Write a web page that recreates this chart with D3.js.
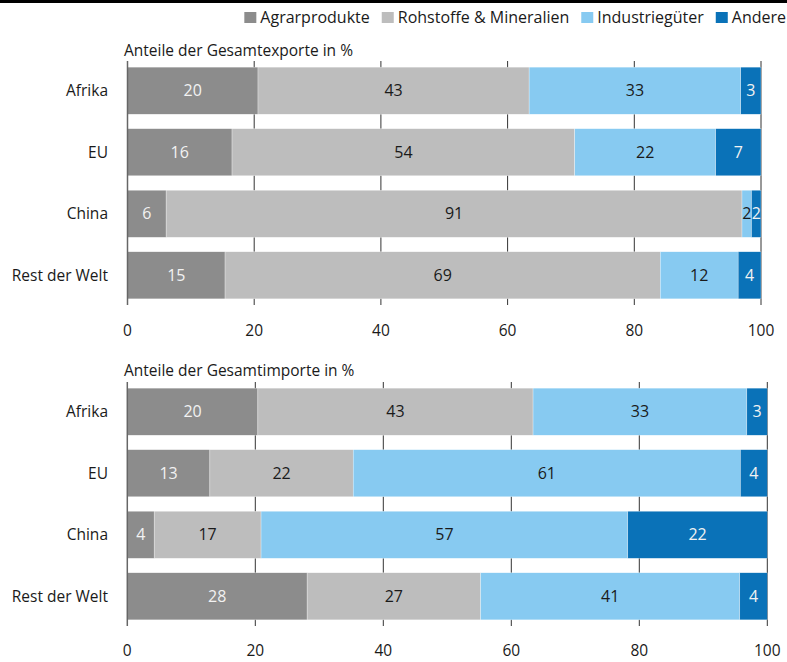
<!DOCTYPE html>
<html><head><meta charset="utf-8">
<script src="https://cdn.jsdelivr.net/npm/d3@7"></script>
<style>html,body{margin:0;padding:0;background:#fff;} svg{display:block;font-family:"Open Sans",sans-serif;}</style>
</head><body>
<svg id="c" width="787" height="662"></svg>
<script>
const categories = ["Afrika", "EU", "China", "Rest der Welt"];
const seriesNames = ["Agrarprodukte", "Rohstoffe & Mineralien", "Industriegüter", "Andere"];
const seriesColors = ["#8c8c8c", "#bdbdbd", "#87caf1", "#0a72b8"];
const labelColors = ["#f2f2f2", "#1a1a1a", "#1a1a1a", "#f2f2f2"];
// bar lengths and printed labels
const exportAgrar = [20.6, 16.5, 6.1, 15.4];
const exportRohstoffe = [42.8, 54.1, 90.9, 68.7];
const exportIndustrie = [33.4, 22.25, 1.5, 12.3];
const exportAndere = [3.2, 7.15, 1.5, 3.6];
const exportLabels = [[20, 43, 33, 3], [16, 54, 22, 7], [6, 91, 2, 2], [15, 69, 12, 4]];
const importAgrar = [20.4, 12.9, 4.2, 28.1];
const importRohstoffe = [43.0, 22.4, 16.7, 27.1];
const importIndustrie = [33.4, 60.5, 57.3, 40.5];
const importAndere = [3.2, 4.2, 21.8, 4.3];
const importLabels = [[20, 43, 33, 3], [13, 22, 61, 4], [4, 17, 57, 22], [28, 27, 41, 4]];
const tickValues = [0, 20, 40, 60, 80, 100];
const exportTitle = "Anteile der Gesamtexporte in %";
const importTitle = "Anteile der Gesamtimporte in %";

const svg = d3.select("#c");
svg.append("rect").attr("x", 0).attr("y", 0).attr("width", 787).attr("height", 3).attr("fill", "#000");

// legend, right aligned
const legend = svg.append("g");
let xr = 786;
const items = seriesNames.map((n, i) => ({n, i})).reverse();
items.forEach(it => {
  const t = legend.append("text").attr("y", 23).attr("font-size", 16).attr("fill", "#1a1a1a").text(it.n);
  const w = t.node().getComputedTextLength();
  const tx = xr - w;
  t.attr("x", tx);
  legend.append("rect").attr("x", tx - 16).attr("y", 12).attr("width", 12).attr("height", 11).attr("fill", seriesColors[it.i]);
  xr = tx - 16 - 12;
});

function panel(cfg) {
  const g = svg.append("g");
  const x = d3.scaleLinear().domain([0, 100]).range(cfg.xRange);
  const y = d3.scaleBand().domain(categories).range(cfg.yRange).paddingInner(0.235).paddingOuter(0.1);
  const rows = categories.map((c, i) => {
    const vals = cfg.series.map(s => s[i]);
    let acc = 0;
    return vals.map((v, k) => { const seg = {c, k, x0: acc, x1: acc + v, label: cfg.labels[i][k]}; acc += v; return seg; });
  });
  g.append("text").attr("x", cfg.titleX).attr("y", cfg.titleY).attr("font-size", 15.5).attr("fill", "#1a1a1a").text(cfg.title);
  // grid
  g.selectAll("line.grid").data(tickValues.slice(1)).join("line")
    .attr("x1", d => x(d)).attr("x2", d => x(d))
    .attr("y1", cfg.yRange[0]).attr("y2", cfg.yRange[1])
    .attr("stroke", "#333").attr("stroke-width", 1);
  const segs = rows.flat();
  g.selectAll("rect.seg").data(segs).join("rect")
    .attr("x", d => x(d.x0)).attr("width", d => x(d.x1) - x(d.x0))
    .attr("y", d => y(d.c)).attr("height", y.bandwidth())
    .attr("fill", d => seriesColors[d.k]).attr("stroke", "#fff").attr("stroke-width", 0.5).attr("stroke-opacity", 0.6);
  g.append("line").attr("x1", x(0)).attr("x2", x(0)).attr("y1", cfg.yRange[0]).attr("y2", cfg.yRange[1])
    .attr("stroke", "#666").attr("stroke-width", 1.5);
  g.selectAll("text.lab").data(segs).join("text")
    .attr("x", d => (x(d.x0) + x(d.x1)) / 2).attr("y", d => y(d.c) + y.bandwidth() / 2)
    .attr("dy", "0.35em").attr("text-anchor", "middle").attr("font-size", 16)
    .attr("fill", d => labelColors[d.k]).text(d => d.label);
  g.selectAll("text.cat").data(categories).join("text")
    .attr("x", 108).attr("y", d => y(d) + y.bandwidth() / 2).attr("dy", "0.35em")
    .attr("text-anchor", "end").attr("font-size", 15.5).attr("fill", "#1a1a1a").text(d => d);
  g.selectAll("text.tick").data(tickValues).join("text")
    .attr("x", d => x(d)).attr("y", cfg.tickY).attr("text-anchor", "middle")
    .attr("font-size", 15.5).attr("fill", "#1a1a1a").text(d => d);
}

panel({xRange: [127.5, 761], yRange: [61, 305], series: [exportAgrar, exportRohstoffe, exportIndustrie, exportAndere],
  labels: exportLabels, title: exportTitle, titleX: 124, titleY: 56, tickY: 336});
panel({xRange: [127.3, 767.3], yRange: [382, 626], series: [importAgrar, importRohstoffe, importIndustrie, importAndere],
  labels: importLabels, title: importTitle, titleX: 124, titleY: 376, tickY: 656});
</script>
</body></html>
